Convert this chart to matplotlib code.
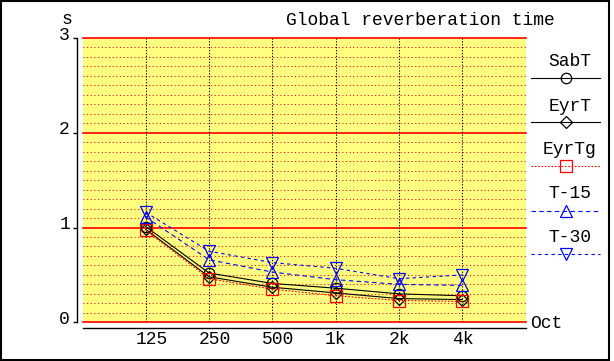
import numpy as np
import matplotlib
matplotlib.use("Agg")
import matplotlib.pyplot as plt
from matplotlib.lines import Line2D
from matplotlib.patches import Rectangle
import matplotlib.transforms as mtransforms

# Data
bands = ["125", "250", "500", "1k", "2k", "4k"]
sabt = [1.01, 0.52, 0.41, 0.36, 0.30, 0.28]
eyrt = [0.98, 0.48, 0.37, 0.31, 0.25, 0.24]
eyrtg = [0.97, 0.46, 0.35, 0.28, 0.23, 0.22]
t15 = [1.11, 0.66, 0.53, 0.45, 0.40, 0.39]
t30 = [1.16, 0.75, 0.63, 0.57, 0.46, 0.50]
yticks = [0, 1, 2, 3]

W, H = 614, 361
FONT = "Liberation Mono"
FS = 13


def fx(px):
    return px / W


def fy(py):
    return 1 - py / H


fig = plt.figure(figsize=(W / 100, H / 100), dpi=100)
fig.patch.set_facecolor("white")

# outer frame
fig.add_artist(Rectangle((fx(0.5), fy(359.5)), fx(608.5), fy(0.5) - fy(359.5),
                         transform=fig.transFigure, fill=False,
                         edgecolor="black", lw=1.5))

left, right, top, bottom = 82.5, 525.5, 38, 322.3
ax = fig.add_axes([fx(left), fy(bottom), fx(right - left), fy(top) - fy(bottom)])
ax.set_facecolor("#ffff80")
ax.set_xlim(0, 7)
ax.set_ylim(0, 3)

# grid
for v in np.arange(1, 30) / 10:
    if abs(v - round(v)) > 1e-6:
        ax.axhline(v, color="red", lw=0.75, dashes=(1, 2.5), zorder=1)
for v in yticks:
    ax.axhline(v, color="red", lw=1.2, zorder=1, clip_on=False)
x = np.arange(1, len(bands) + 1)
for xv in x:
    ax.axvline(xv, color="black", lw=0.75, dashes=(1.2, 1.6), zorder=1)

# series
series = [
    ("SabT", sabt, dict(color="black", ls="-", marker="o", ms=7.5, mfc="none")),
    ("EyrT", eyrt, dict(color="black", ls="-", marker="D", ms=6.5, mfc="none")),
    ("EyrTg", eyrtg, dict(color="red", dashes=(1.5, 1.5), marker="s", ms=9, mfc="none")),
    ("T-15", t15, dict(color="blue", dashes=(4, 3), marker="^", ms=9, mfc="none")),
    ("T-30", t30, dict(color="blue", dashes=(3, 3), marker="v", ms=9, mfc="none")),
]
for name, vals, st in series:
    ax.plot(x, vals, lw=0.8, mew=0.9, zorder=3, **st)

# axes: left and bottom black lines offset from plot
for s in ["top", "right"]:
    ax.spines[s].set_visible(False)
ax.spines["left"].set_position(("outward", 4))
ax.spines["bottom"].set_position(("outward", 4))
ax.spines["left"].set_bounds(0, 3)
ax.spines["bottom"].set_bounds(0, 7)
ax.spines["left"].set_linewidth(1.0)
ax.spines["bottom"].set_linewidth(1.0)
ax.set_yticks(yticks)
ax.set_yticklabels([])
ax.set_xticks([])
ax.tick_params(axis="y", length=3.2, width=1.0, color="black")

# y labels, slightly above their ticks
yoff = mtransforms.offset_copy(ax.transData, fig=fig, x=-8.5, y=3, units="dots")
ytr = mtransforms.blended_transform_factory(ax.transAxes, ax.transData)
ytr = ytr + mtransforms.ScaledTranslation(-0.125, 0.03, fig.dpi_scale_trans)
for v in yticks:
    ax.text(0, v, str(v), transform=ytr, ha="right", va="center",
            family=FONT, fontsize=FS)

# x labels, left edge a bit left of each grid line
xtr = mtransforms.blended_transform_factory(ax.transData, fig.transFigure)
xtr = xtr + mtransforms.ScaledTranslation(-0.105, 0, fig.dpi_scale_trans)
for xv, lab in zip(x, bands):
    ax.text(xv, fy(339), lab, transform=xtr, ha="left", va="center",
            family=FONT, fontsize=FS)

fig.text(fx(530), fy(324), "Oct", ha="left", va="center", family=FONT, fontsize=FS)
fig.text(fx(67), fy(20), "s", ha="center", va="center", family=FONT, fontsize=FS)
fig.text(fx(420), fy(20.5), "Global reverberation time", ha="center", va="center",
         family=FONT, fontsize=FS)

# legend on the right
text_y = [62, 106, 149, 193, 237]
line_y = [78, 122, 166, 211, 254]
for (name, vals, st), ty, ly in zip(series, text_y, line_y):
    fig.text(fx(570), fy(ty), name, ha="center", va="center", family=FONT, fontsize=FS)
    lst = {k: v for k, v in st.items() if k not in ("marker", "ms", "mfc")}
    fig.add_artist(Line2D([fx(531), fx(600)], [fy(ly), fy(ly)],
                          transform=fig.transFigure, lw=0.8, **lst))
    fig.add_artist(Line2D([fx(566)], [fy(ly)], transform=fig.transFigure,
                          color=st["color"], marker=st["marker"], ms=st["ms"],
                          mfc="none", mew=0.9, ls="none"))

fig.savefig("out.png", dpi=100)
